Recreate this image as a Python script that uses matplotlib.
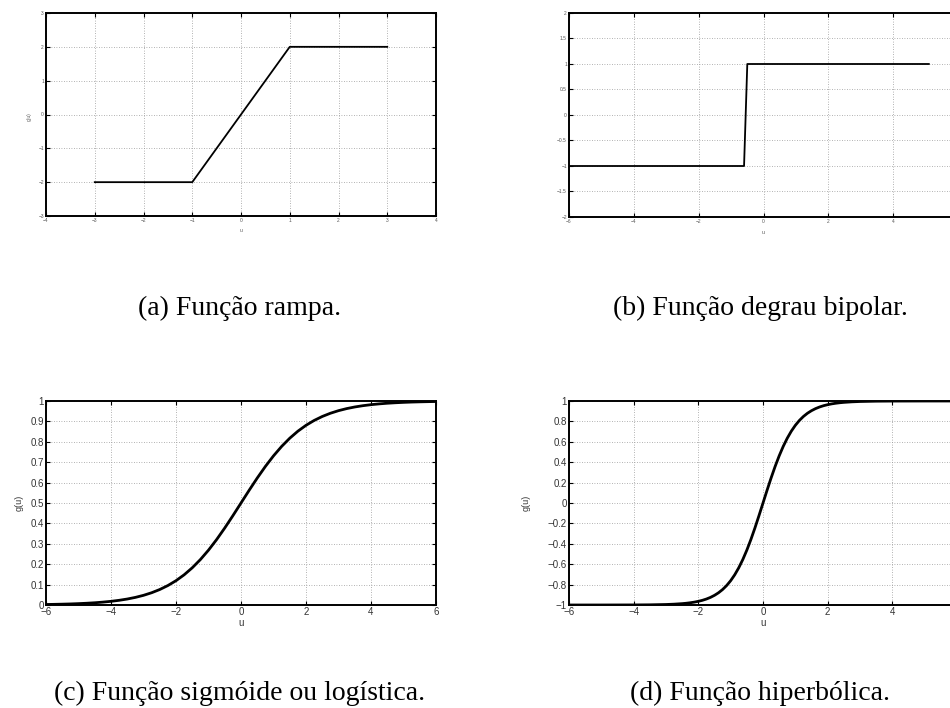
import numpy as np
import matplotlib
matplotlib.use('Agg')
import matplotlib.pyplot as plt
from matplotlib.ticker import FuncFormatter

# (a) rampa
u_rampa = [-3, -1, 1, 3]
g_rampa = [-2, -2, 2, 2]

# (b) degrau bipolar
u_degrau = [-6, -0.6, -0.5, 5.1]
g_degrau = [-1, -1, 1, 1]

# (c) sigmoide
u_sig = [-6, -5.75, -5.5, -5.25, -5, -4.75, -4.5, -4.25, -4, -3.75, -3.5, -3.25, -3,
         -2.75, -2.5, -2.25, -2, -1.75, -1.5, -1.25, -1, -0.75, -0.5, -0.25, 0,
         0.25, 0.5, 0.75, 1, 1.25, 1.5, 1.75, 2, 2.25, 2.5, 2.75, 3,
         3.25, 3.5, 3.75, 4, 4.25, 4.5, 4.75, 5, 5.25, 5.5, 5.75, 6]
g_sig = [0.0025, 0.0032, 0.0041, 0.0052, 0.0067, 0.0086, 0.0110, 0.0141, 0.0180, 0.0230, 0.0293, 0.0373, 0.0474,
         0.0601, 0.0759, 0.0954, 0.1192, 0.1480, 0.1824, 0.2227, 0.2689, 0.3208, 0.3775, 0.4378, 0.5,
         0.5622, 0.6225, 0.6792, 0.7311, 0.7773, 0.8176, 0.8520, 0.8808, 0.9046, 0.9241, 0.9399, 0.9526,
         0.9627, 0.9707, 0.9770, 0.9820, 0.9859, 0.9890, 0.9914, 0.9933, 0.9948, 0.9959, 0.9968, 0.9975]

# (d) hiperbolica
u_tanh = [-6, -5, -4, -3.5, -3, -2.75, -2.5, -2.375, -2.25, -2.125, -2, -1.875, -1.75, -1.625, -1.5,
          -1.375, -1.25, -1.125, -1, -0.875, -0.75, -0.625, -0.5, -0.375, -0.25, -0.125, 0,
          0.125, 0.25, 0.375, 0.5, 0.625, 0.75, 0.875, 1, 1.125, 1.25, 1.375, 1.5,
          1.625, 1.75, 1.875, 2, 2.125, 2.25, 2.375, 2.5, 2.75, 3, 3.5, 4, 5, 6]
g_tanh = [-1.0, -0.9999, -0.9993, -0.9982, -0.9951, -0.9918, -0.9866, -0.9829, -0.9780, -0.9719, -0.9640, -0.9541, -0.9414, -0.9254, -0.9051,
          -0.8799, -0.8483, -0.8093, -0.7616, -0.7039, -0.6351, -0.5546, -0.4621, -0.3584, -0.2449, -0.1244, 0.0,
          0.1244, 0.2449, 0.3584, 0.4621, 0.5546, 0.6351, 0.7039, 0.7616, 0.8093, 0.8483, 0.8799, 0.9051,
          0.9254, 0.9414, 0.9541, 0.9640, 0.9719, 0.9780, 0.9829, 0.9866, 0.9918, 0.9951, 0.9982, 0.9993, 0.9999, 1.0]

legendas = ['(a) Função rampa.', '(b) Função degrau bipolar.',
            '(c) Função sigmóide ou logística.', '(d) Função hiperbólica.']

W, H = 950, 708
fig = plt.figure(figsize=(W / 100, H / 100), dpi=100)
plt.rcParams['font.family'] = ['Liberation Sans', 'DejaVu Sans']


def eixo(x0, y0, x1, y1):
    # posicao em pixels -> coordenadas da figura
    return fig.add_axes([x0 / W, 1 - y1 / H, (x1 - x0) / W, (y1 - y0) / H])


fmt = FuncFormatter(lambda v, p: ('%g' % (round(v, 6) + 0.0)).replace('-', '\u2212'))


def estilo(ax, fs, cor, lw_frame):
    for s in ax.spines.values():
        s.set_linewidth(lw_frame)
    ax.tick_params(direction='in', top=True, right=True, length=3, width=0.8,
                   labelsize=fs, labelcolor=cor, pad=1.5)
    ax.grid(True, linestyle=(0, (1, 2)), color='#999999', linewidth=0.6)
    ax.xaxis.set_major_formatter(fmt)
    ax.yaxis.set_major_formatter(fmt)


# (a)
axa = eixo(46, 13, 436, 216)
axa.plot(u_rampa, g_rampa, color='black', lw=1.3)
axa.set_xlim(-4, 4)
axa.set_ylim(-3, 3)
axa.set_xticks(np.arange(-4, 5, 1))
axa.set_yticks(np.arange(-3, 4, 1))
estilo(axa, 3.5, '#555555', 1.4)
axa.set_xlabel('u', fontsize=3.5, color='#555555')
axa.set_ylabel('g(u)', fontsize=3.5, color='#555555')
axa.xaxis.set_label_coords(0.5, -0.06)
axa.yaxis.set_label_coords(-0.036, 0.49)

# (b)
axb = eixo(569, 13, 958, 217)
axb.plot(u_degrau, g_degrau, color='black', lw=1.3)
axb.set_xlim(-6, 6)
axb.set_ylim(-2, 2)
axb.set_xticks(np.arange(-6, 7, 2))
axb.set_yticks(np.arange(-2, 2.01, 0.5))
estilo(axb, 3.5, '#555555', 1.4)
axb.set_xlabel('u', fontsize=3.8, color='#555555')
axb.xaxis.set_label_coords(0.5, -0.065)

# (c)
axc = eixo(46, 401, 436, 605)
axc.plot(u_sig, g_sig, color='black', lw=2.0)
axc.set_xlim(-6, 6)
axc.set_ylim(0, 1)
axc.set_xticks(np.arange(-6, 7, 2))
axc.set_yticks(np.arange(0, 1.01, 0.1))
estilo(axc, 7, '#333333', 1.4)
axc.set_xlabel('u', fontsize=7, color='#333333')
axc.set_ylabel('g(u)', fontsize=6.5, color='#333333')
axc.xaxis.set_label_coords(0.5, -0.062)
axc.yaxis.set_label_coords(-0.058, 0.5)

# (d)
axd = eixo(569, 401, 957, 605)
axd.plot(u_tanh, g_tanh, color='black', lw=2.0)
axd.set_xlim(-6, 6)
axd.set_ylim(-1, 1)
axd.set_xticks(np.arange(-6, 7, 2))
axd.set_yticks(np.arange(-1, 1.01, 0.2))
estilo(axd, 7, '#333333', 1.4)
axd.set_xlabel('u', fontsize=7, color='#333333')
axd.set_ylabel('g(u)', fontsize=6.5, color='#333333')
axd.xaxis.set_label_coords(0.5, -0.062)
axd.yaxis.set_label_coords(-0.10, 0.5)

# legendas das subfiguras
pos = [(240, 315), (760, 315), (240, 700), (760, 700)]
for txt, (x, y) in zip(legendas, pos):
    fig.text(x / W, 1 - y / H, txt, ha='center', va='baseline',
             family=['Liberation Serif', 'DejaVu Serif'], fontsize=20)

plt.savefig('out.png', dpi=100)
plt.close(fig)
